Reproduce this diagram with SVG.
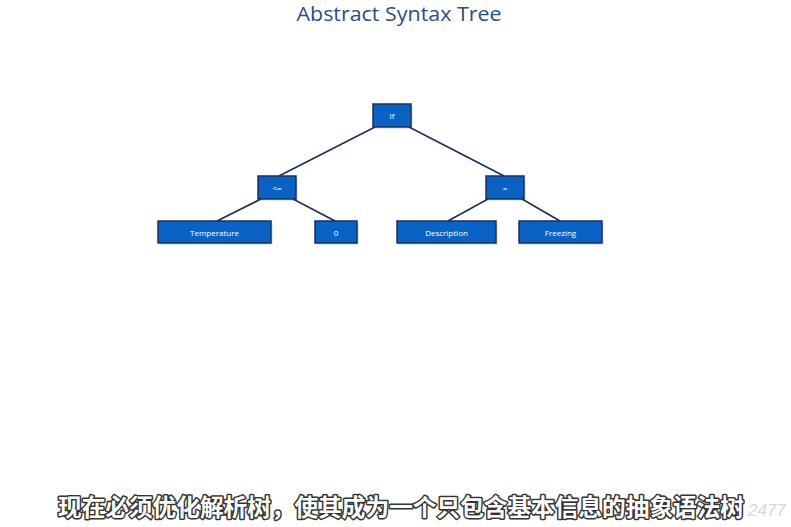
<svg xmlns="http://www.w3.org/2000/svg" width="791" height="527" viewBox="0 0 791 527">
<defs>
<style>
.node rect{fill:#0A63C4;stroke:#1B2F5E;stroke-width:1.5}
.node text{font-family:"Open Sans","Noto Sans",sans-serif;font-size:8px;fill:#ffffff;text-anchor:middle;dominant-baseline:central}
.edge{stroke:#1B2F5E;stroke-width:1.6;fill:none}
.sh{fill:#000;opacity:0.12}
</style>
</defs>
<rect width="791" height="527" fill="#ffffff"/>
<text x="399" y="21" font-family="'Open Sans','Noto Sans',sans-serif" font-size="19.5" fill="#2C4C88" text-anchor="middle" textLength="205" lengthAdjust="spacingAndGlyphs">Abstract Syntax Tree</text>
<g id="connectors">
<line class="edge" x1="375" y1="127" x2="279" y2="176"/>
<line class="edge" x1="409" y1="127" x2="504" y2="176"/>
<line class="edge" x1="261" y1="199" x2="217" y2="221"/>
<line class="edge" x1="293" y1="199" x2="335" y2="221"/>
<line class="edge" x1="488" y1="199" x2="448" y2="221"/>
<line class="edge" x1="522" y1="199" x2="560" y2="221"/>
</g>
<g id="n-if" class="node"><rect class="sh" x="375" y="106" width="38" height="23" style="stroke:none"/><rect x="373" y="104" width="38" height="23"/><text x="392" y="115.5">If</text></g>
<g id="n-le" class="node"><rect class="sh" x="260" y="178" width="38" height="23" style="stroke:none"/><rect x="258" y="176" width="38" height="23"/><text x="277" y="187.5">&lt;=</text></g>
<g id="n-eq" class="node"><rect class="sh" x="488" y="178" width="38" height="23" style="stroke:none"/><rect x="486" y="176" width="38" height="23"/><text x="505" y="187.5">=</text></g>
<g id="n-temp" class="node"><rect class="sh" x="160" y="223" width="113" height="22" style="stroke:none"/><rect x="158" y="221" width="113" height="22"/><text x="214.5" y="232">Temperature</text></g>
<g id="n-zero" class="node"><rect class="sh" x="317" y="223" width="42" height="22" style="stroke:none"/><rect x="315" y="221" width="42" height="22"/><text x="336" y="232">0</text></g>
<g id="n-desc" class="node"><rect class="sh" x="399" y="223" width="99" height="22" style="stroke:none"/><rect x="397" y="221" width="99" height="22"/><text x="446.5" y="232">Description</text></g>
<g id="n-freeze" class="node"><rect class="sh" x="521" y="223" width="83" height="22" style="stroke:none"/><rect x="519" y="221" width="83" height="22"/><text x="560.5" y="232">Freezing</text></g>
<text x="748" y="516" font-family="'Liberation Sans',sans-serif" font-size="17" font-style="italic" fill="#d8d8d8">2477</text>
<text x="401" y="516" font-family="'Noto Sans CJK SC',sans-serif" font-size="23.5" font-weight="bold" fill="#ffffff" stroke="#333333" stroke-width="3" paint-order="stroke" stroke-linejoin="round" text-anchor="middle" textLength="686" lengthAdjust="spacingAndGlyphs">现在必须优化解析树，使其成为一个只包含基本信息的抽象语法树</text>
</svg>
